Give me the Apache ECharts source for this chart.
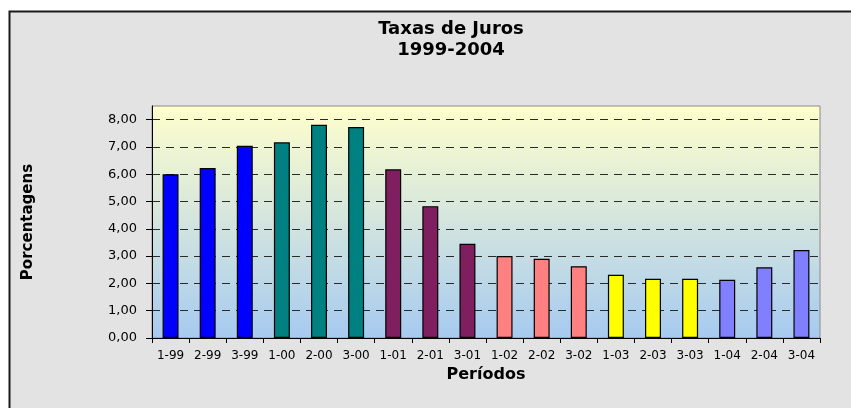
<!DOCTYPE html>
<html>
<head>
<meta charset="utf-8">
<style>
  html, body { margin: 0; padding: 0; background: #ffffff; overflow: hidden; }
  #chart { width: 851px; height: 408px; }
</style>
<script src="https://cdn.jsdelivr.net/npm/echarts@6/dist/echarts.min.js"></script>
</head>
<body>
<div id="chart"></div>
<script>
// ---- Data ----
const categories = ['1-99','2-99','3-99','1-00','2-00','3-00','1-01','2-01','3-01',
                    '1-02','2-02','3-02','1-03','2-03','3-03','1-04','2-04','3-04'];
const values = [6.00, 6.23, 7.04, 7.17, 7.81, 7.73, 6.18, 4.83, 3.45,
                3.00, 2.90, 2.63, 2.32, 2.17, 2.17, 2.13, 2.59, 3.22];
const yTicks = [0, 1, 2, 3, 4, 5, 6, 7, 8];
// colour per year (suffix of category)
const yearColors = { '99': '#0000ff', '00': '#008080', '01': '#7f1f5f',
                     '02': '#ff8080', '03': '#ffff00', '04': '#8080ff' };

const FONT = 'DejaVu Sans';
const chart = echarts.init(document.getElementById('chart'));

chart.setOption({
  backgroundColor: '#ffffff',
  animation: false,
  textStyle: { fontFamily: FONT },
  graphic: [{
    type: 'rect', z: -10, silent: true,
    shape: { x: 10, y: 12, width: 1000, height: 1000 },
    style: { fill: '#e3e3e3' }
  }, {
    type: 'polyline', z: -9, silent: true,
    shape: { points: [[9.5, 420], [9.5, 11.5], [851, 11.5]] },
    style: { fill: null, stroke: '#1a1a1a', lineWidth: 2 }
  }],
  title: {
    text: 'Taxas de Juros\n1999-2004',
    left: 446, top: 14,
    textAlign: 'center',
    textStyle: { fontFamily: FONT, fontSize: 18, fontWeight: 'bold', color: '#000', lineHeight: 21 }
  },
  grid: {
    left: 152, right: 31, top: 106, bottom: 70,
    show: true,
    borderColor: '#8a8a8a', borderWidth: 1,
    backgroundColor: new echarts.graphic.LinearGradient(0, 0, 0, 1, [
      { offset: 0, color: '#ffffcc' },
      { offset: 1, color: '#a6caf0' }
    ])
  },
  xAxis: {
    type: 'category',
    data: categories,
    name: 'Períodos',
    nameLocation: 'middle',
    nameGap: 28,
    nameTextStyle: { fontFamily: FONT, fontSize: 16, fontWeight: 'bold', color: '#000' },
    axisLine: { lineStyle: { color: '#000', width: 1 } },
    axisTick: { show: true, length: 5, lineStyle: { color: '#000' } },
    axisLabel: { interval: 0, margin: 12, fontFamily: FONT, fontSize: 12, color: '#000' },
    splitLine: { show: false }
  },
  yAxis: {
    type: 'value',
    min: 0, max: 8.5, interval: 1,
    name: 'Porcentagens',
    nameLocation: 'middle',
    nameRotate: 90,
    nameGap: 116,
    nameTextStyle: { fontFamily: FONT, fontSize: 15, fontWeight: 'bold', color: '#000' },
    axisLine: { show: true, lineStyle: { color: '#000', width: 1 } },
    axisTick: { show: true, length: 6, customValues: yTicks, lineStyle: { color: '#000' } },
    axisLabel: {
      customValues: yTicks,
      margin: 15, fontFamily: FONT, fontSize: 13, color: '#000',
      formatter: v => v.toFixed(2).replace('.', ',')
    },
    splitLine: { show: true, lineStyle: { color: '#2a2a2a', type: [8, 6], width: 1 } }
  },
  series: [{
    type: 'bar',
    barWidth: '43%',
    data: values.map((v, i) => ({
      value: v,
      itemStyle: { color: yearColors[categories[i].split('-')[1]] }
    })),
    itemStyle: { borderColor: '#000', borderWidth: 1.2 }
  }]
});
</script>
</body>
</html>
